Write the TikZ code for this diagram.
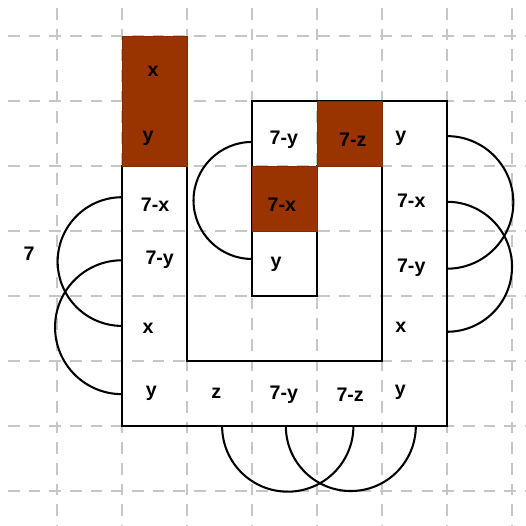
\documentclass[tikz,border=0pt]{standalone}
\usepackage{fontspec}
\setmainfont{Liberation Sans}
\usepackage{tikz}
\usetikzlibrary{positioning}

\definecolor{rust}{HTML}{993300}

\begin{document}
\begin{tikzpicture}[
    lbl/.style={font=\bfseries\fontsize{8.6}{10}\selectfont, inner sep=0pt},
    grd/.style={gray!45, line width=0.9pt, dash pattern=on 5.1pt off 3.95pt},
    edge/.style={black, line width=0.9pt},
    link/.style={black, line width=0.9pt},
    shade/.style={fill=rust, draw=rust!85!black, line width=0.4pt}
]
\useasboundingbox (-1.877,-1.538) rectangle (6.215,6.554);
% Grid
\foreach \k in {-1,...,6} {
    \draw[grd] (-1.754,\k) -- (6.3,\k);
    \draw[grd] (\k,6.43) -- (\k,-1.6);
}
% Outline of the net
\draw[edge] (0,4) -- (0,0) -- (5,0) -- (5,5) -- (2,5) -- (2,2) -- (3,2)
    -- (3,4) -- (4,4) -- (4,1) -- (1,1) -- (1,4) -- cycle;
% Shaded faces
\draw[shade] (0,4) rectangle (1,6);
\draw[shade] (3,4) rectangle (4,5);
\draw[shade] (2,3) rectangle (3,4);
% Labels
\foreach \u/\v/\txt/\nm in {
    0.48/5.46/x/la, 0.40/4.42/y/lb, 0.51/3.40/7-x/lc, 0.58/2.55/7-y/ld,
    0.40/1.51/x/le, 0.45/0.51/y/lf,
    1.45/0.51/z/ba, 2.49/0.48/7-y/bb, 3.51/0.48/7-z/bc, 4.28/0.52/y/bd,
    4.29/1.52/x/ra, 4.45/2.43/7-y/rb, 4.45/3.46/7-x/rc, 4.29/4.42/y/rd,
    3.55/4.40/7-z/ta, 2.49/4.40/7-y/tb, 2.46/3.40/7-x/tc, 2.37/2.48/y/td} {
    \node[lbl] (\nm) at (\u,\v) {\txt};
}
\node[lbl] (seven) at (-1.43,2.65) {7};
% Ends of the arcs
\coordinate (pa) at (0,3.52);
\coordinate (pb) at (0,2.55);
\coordinate (pc) at (5,4.46);
\coordinate (pd) at (5,3.45);
\coordinate (pe) at (1.54,0);
\coordinate (pf) at (2.52,0);
\coordinate (pg) at (2,4.37);
% Arcs
\draw[link] (pa) arc[start angle=90, end angle=270, radius=0.99];
\draw[link] (pb) arc[start angle=90, end angle=270, radius=1.03];
\draw[link] (pc) arc[start angle=90, end angle=-90, radius=1.02];
\draw[link] (pd) arc[start angle=90, end angle=-90, radius=1];
\draw[link] (pe) arc[start angle=180, end angle=360, radius=1.01];
\draw[link] (pf) arc[start angle=180, end angle=360, radius=1];
\draw[link] (pg) arc[start angle=90, end angle=270, radius=0.9];
\end{tikzpicture}
\end{document}
